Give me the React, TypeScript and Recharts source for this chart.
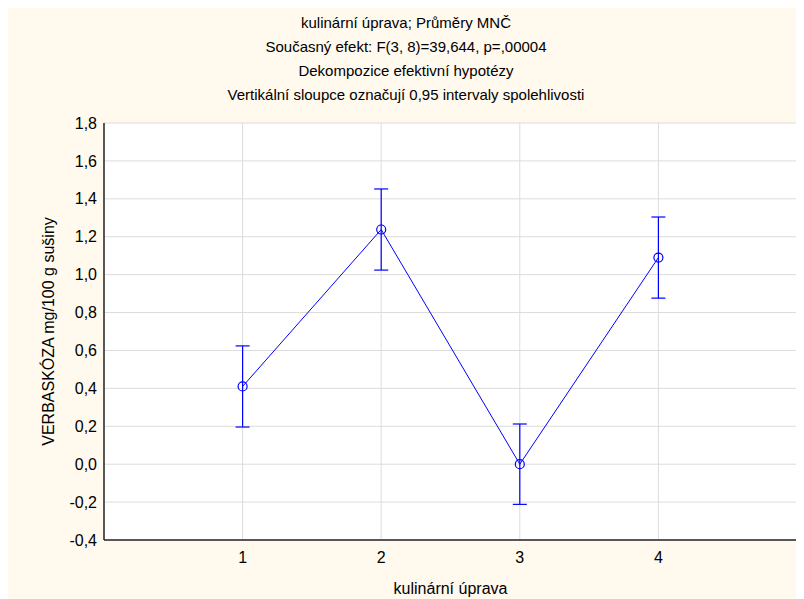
import React from 'react';
import {
  LineChart,
  Line,
  ErrorBar,
  CartesianGrid,
  XAxis,
  YAxis
} from 'recharts';

// kulinární úprava (1-4), least-squares means with 0.95 CI half-widths
const categories = [1, 2, 3, 4];
const means = [0.41, 1.238, 0.0, 1.09];
const ciHalf = [0.214, 0.214, 0.212, 0.214];

const xTicks = [1, 2, 3, 4];
const yTicks = [-0.4, -0.2, 0, 0.2, 0.4, 0.6, 0.8, 1.0, 1.2, 1.4, 1.6, 1.8];

const titleLines = [
  'kulinární úprava; Průměry MNČ',
  'Současný efekt: F(3, 8)=39,644, p=,00004',
  'Dekompozice efektivní hypotézy',
  'Vertikální sloupce označují 0,95 intervaly spolehlivosti'
];

const xTitle = 'kulinární úprava';
const yTitle = 'VERBASKÓZA mg/100 g sušiny';

const data = categories.map((c, i) => ({ x: c, mean: means[i], ci: ciHalf[i] }));

const BLUE = '#0000ff';
const FRAME = '#262626';
const fmt = (v: number) => v.toFixed(1).replace('.', ',');

const App = () => (
  <div
    style={{
      position: 'relative',
      width: 796,
      height: 591,
      background: '#fff9ee',
      fontFamily: '"Liberation Sans", Arial, sans-serif',
      color: '#000'
    }}
  >
    <div
      style={{
        position: 'absolute',
        top: 3,
        left: 0,
        width: 796,
        textAlign: 'center',
        fontSize: 15,
        lineHeight: '24px'
      }}
    >
      {titleLines.map((t) => (
        <div key={t}>{t}</div>
      ))}
    </div>
    <LineChart
      width={796}
      height={591}
      data={data}
      margin={{ top: 115, right: 7, left: 0, bottom: 0 }}
    >
      <CartesianGrid stroke="#dcdcdc" fill="#ffffff" />
      <XAxis
        dataKey="x"
        type="number"
        domain={[0, 5]}
        ticks={xTicks}
        height={59}
        tickLine={false}
        tickSize={0}
        tickMargin={12}
        axisLine={{ stroke: FRAME, strokeWidth: 1.5 }}
        tick={{ fill: '#000', fontSize: 16 }}
        label={{ value: xTitle, position: 'insideBottom', offset: 5, fill: '#000', fontSize: 16 }}
      />
      <XAxis
        xAxisId="top"
        orientation="top"
        type="number"
        domain={[0, 5]}
        height={0}
        tick={false}
        tickLine={false}
        axisLine={{ stroke: FRAME, strokeWidth: 1.5 }}
      />
      <YAxis
        type="number"
        domain={[-0.4, 1.8]}
        ticks={yTicks}
        width={96}
        tickLine={false}
        tickSize={0}
        tickMargin={7}
        tickFormatter={fmt}
        axisLine={{ stroke: FRAME, strokeWidth: 1.5 }}
        tick={{ fill: '#000', fontSize: 16 }}
        label={{
          value: yTitle,
          angle: -90,
          position: 'insideLeft',
          offset: 40,
          fill: '#000',
          fontSize: 16,
          style: { textAnchor: 'middle' }
        }}
      />
      <YAxis
        yAxisId="right"
        orientation="right"
        type="number"
        domain={[-0.4, 1.8]}
        width={0}
        tick={false}
        tickLine={false}
        axisLine={{ stroke: FRAME, strokeWidth: 1.5 }}
      />
      <Line
        dataKey="mean"
        stroke={BLUE}
        strokeWidth={1}
        dot={{ r: 4.5, fill: 'none', stroke: BLUE, strokeWidth: 1.2 }}
        activeDot={false}
        isAnimationActive={false}
      >
        <ErrorBar dataKey="ci" direction="y" width={7} stroke={BLUE} strokeWidth={1.2} />
      </Line>
    </LineChart>
  </div>
);

export default App;
